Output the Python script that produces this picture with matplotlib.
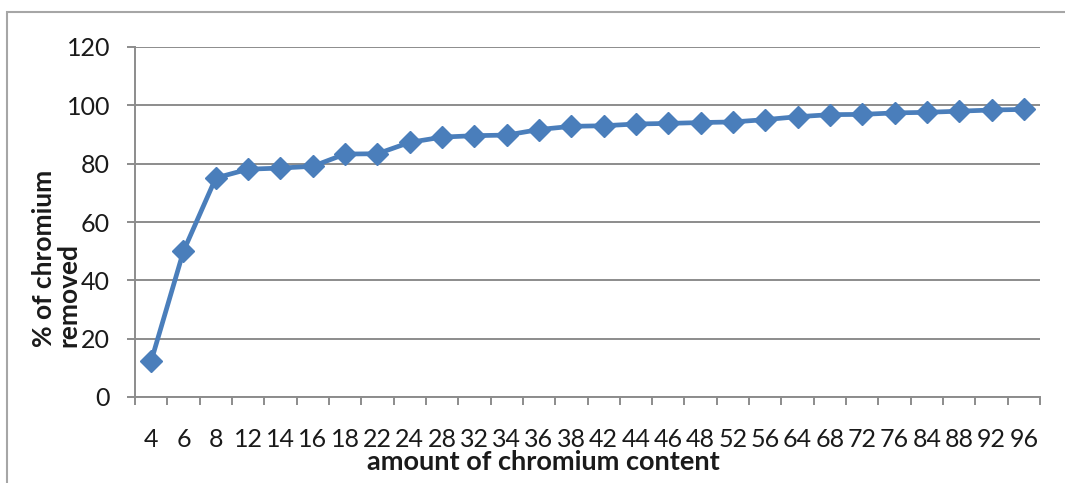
import matplotlib
matplotlib.use("Agg")
import matplotlib.pyplot as plt
from matplotlib.patches import Rectangle
from matplotlib.ticker import FixedLocator, NullFormatter

categories = ["4", "6", "8", "12", "14", "16", "18", "22", "24", "28", "32", "34", "36", "38",
              "42", "44", "46", "48", "52", "56", "64", "68", "72", "76", "84", "88", "92", "96"]
removed = [12.3, 50.0, 75.1, 78.1, 78.5, 79.1, 83.3, 83.4, 87.3, 89.1, 89.6, 89.8, 91.7, 92.8,
           93.0, 93.6, 93.8, 94.1, 94.3, 95.1, 96.1, 96.8, 96.9, 97.4, 97.6, 98.0, 98.4, 98.6]
y_ticks = [0, 20, 40, 60, 80, 100, 120]

plt.rcParams['font.family'] = ['Lato', 'DejaVu Sans']
W, H = 1065, 483
fig = plt.figure(figsize=(W / 100, H / 100), dpi=100)
ax = fig.add_axes([135 / W, (H - 397) / H, (1040 - 135) / W, (397 - 47) / H])

grid_col = '#8c8c8c'
text_col = '#1a1a1a'
x = list(range(len(categories)))
ax.plot(x, removed, color='#4a7ebb', lw=3.4, marker='D', ms=11,
        mfc='#4a7ebb', mec='#4a7ebb', mew=1, zorder=3, solid_joinstyle='round')

ax.set_xlim(-0.5, len(categories) - 0.5)
ax.set_ylim(0, 120)
ax.set_yticks(y_ticks)
ax.set_xticks(x)
ax.set_xticklabels(categories)
ax.xaxis.set_minor_locator(FixedLocator([i - 0.5 for i in range(len(categories) + 1)]))
ax.xaxis.set_minor_formatter(NullFormatter())

ax.grid(axis='y', color=grid_col, lw=1.4)
ax.set_axisbelow(True)
for s in ['top', 'right']:
    ax.spines[s].set_visible(False)
for s in ['left', 'bottom']:
    ax.spines[s].set_color(grid_col)
    ax.spines[s].set_linewidth(1.4)

ax.tick_params(axis='y', which='major', length=6, width=1.4, color=grid_col,
               pad=12, labelsize=18, labelcolor=text_col)
ax.tick_params(axis='x', which='major', length=0, pad=22, labelsize=18, labelcolor=text_col)
ax.tick_params(axis='x', which='minor', length=6, width=1.4, color=grid_col)

fig.text(543 / W, (H - 462) / H, 'amount of chromium content', ha='center', va='center',
         fontsize=19.5, fontweight='bold', color=text_col)
fig.text(56 / W, (H - 347) / H, '% of chromium\nremoved', rotation=90, ha='center', va='bottom',
         multialignment='left', fontsize=19, fontweight='bold', color=text_col, linespacing=1.0)

fig.patches.append(Rectangle((7 / W, -0.1), 1.2, (H - 12) / H + 0.1, transform=fig.transFigure,
                             fill=False, edgecolor='#a6a6a6', lw=1.5))

fig.savefig('out.png', dpi=100)
